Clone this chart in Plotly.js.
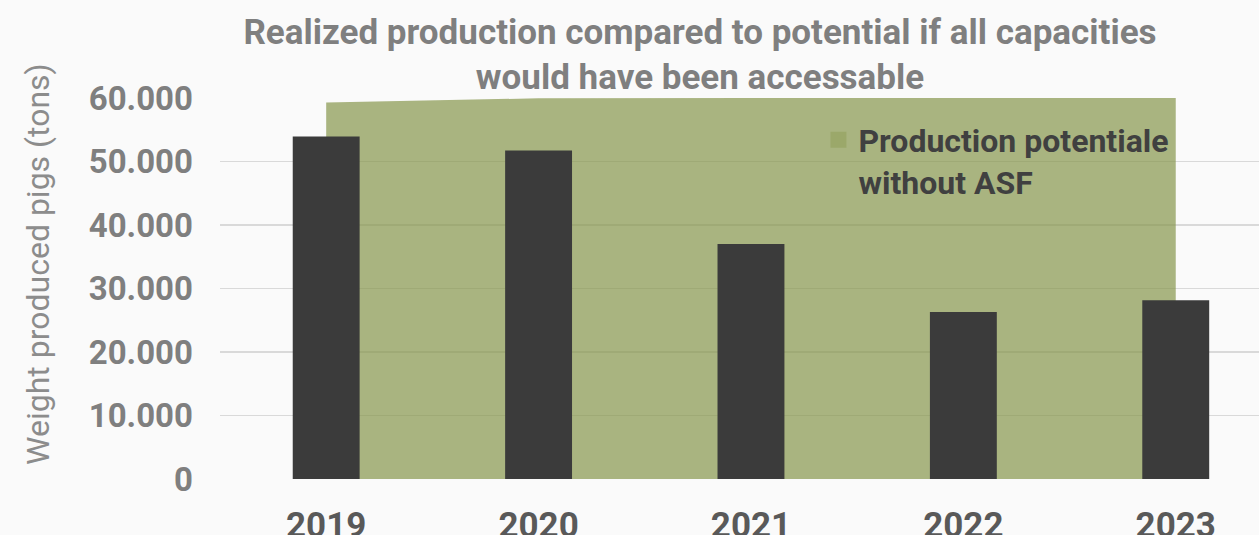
<!DOCTYPE html>
<html>
<head>
<meta charset="utf-8">
<script src="https://cdn.plot.ly/plotly-3.0.1.min.js"></script>
<style>
html,body{margin:0;padding:0;background:#fafafa;overflow:hidden;}
#chart{width:1259px;height:535px;}
</style>
</head>
<body>
<div id="chart"></div>
<script>
const years = ['2019', '2020', '2021', '2022', '2023'];
const realized = [53950, 51750, 37000, 26300, 28150];
const potential = [59300, 59950, 60000, 60000, 60000];
const yTickVals = [0, 10000, 20000, 30000, 40000, 50000, 60000];
const yTickText = ['0', '10.000', '20.000', '30.000', '40.000', '50.000', '60.000'];
const seriesName = 'Production potentiale<br>without ASF';

const areaTrace = {
  type: 'scatter', x: years, y: potential, mode: 'lines', fill: 'tozeroy',
  line: {width: 0, color: 'rgba(134,150,76,0.7)'}, fillcolor: 'rgba(134,150,76,0.7)',
  showlegend: false, hoverinfo: 'skip', xaxis: 'x', yaxis: 'y'
};
const legendTrace = {
  type: 'scatter', x: [null], y: [null], mode: 'markers', name: seriesName,
  marker: {symbol: 'square', size: 18, color: 'rgb(155,168,106)'}, showlegend: true,
  xaxis: 'x', yaxis: 'y'
};
const barTrace = {
  type: 'bar', x: years, y: realized, width: 0.315,
  marker: {color: '#3b3b3b', line: {width: 0}}, showlegend: false,
  xaxis: 'x2', yaxis: 'y2'
};

const xRange = [-0.5, 4.392];
const layout = {
  width: 1259, height: 535,
  paper_bgcolor: '#fafafa', plot_bgcolor: '#fafafa',
  margin: {l: 219.5, r: 0, t: 98, b: 56.3, pad: 0},
  font: {family: 'Roboto, sans-serif'},
  title: {
    text: '<b>Realized production compared to potential if all capacities<br>would have been accessable</b>',
    font: {size: 35, color: '#7f7f7f'}, x: 0.462, xanchor: 'center', xref: 'paper', y: 0.918, yanchor: 'top'
  },
  xaxis: {
    type: 'category', categoryarray: years, range: xRange, showgrid: false, zeroline: false,
    showline: false, ticks: '', tickfont: {size: 35, color: '#595959', weight: 'bold'},
    ticklabelstandoff: 22
  },
  yaxis: {
    range: [0, 60000], tickvals: yTickVals, ticktext: yTickText,
    showgrid: true, gridcolor: '#d9d9d9', gridwidth: 1.3, zeroline: false, showline: false,
    ticks: '', tickfont: {size: 33, color: '#7f7f7f', weight: 'bold'}, ticklabelstandoff: 26
  },
  xaxis2: {
    type: 'category', categoryarray: years, range: xRange, overlaying: 'x', anchor: 'y2',
    showgrid: false, zeroline: false, showline: false, showticklabels: false, ticks: ''
  },
  yaxis2: {
    range: [0, 60000], overlaying: 'y', anchor: 'x2',
    showgrid: false, zeroline: false, showline: false, showticklabels: false, ticks: ''
  },
  annotations: [{
    text: 'Weight produced pigs (tons)', textangle: -90, showarrow: false,
    xref: 'paper', yref: 'paper', x: -0.175, y: 0.565, xanchor: 'center', yanchor: 'middle',
    font: {size: 32, color: '#8c8c8c'}
  }],
  legend: {
    x: 0.576, y: 0.962, xanchor: 'left', yanchor: 'top', bgcolor: 'rgba(0,0,0,0)',
    font: {size: 32, color: '#404040', weight: 'bold'}, valign: 'top', itemwidth: 30
  },
  showlegend: true
};

Plotly.newPlot('chart', [areaTrace, legendTrace, barTrace], layout, {displayModeBar: false, staticPlot: true});
</script>
</body>
</html>
